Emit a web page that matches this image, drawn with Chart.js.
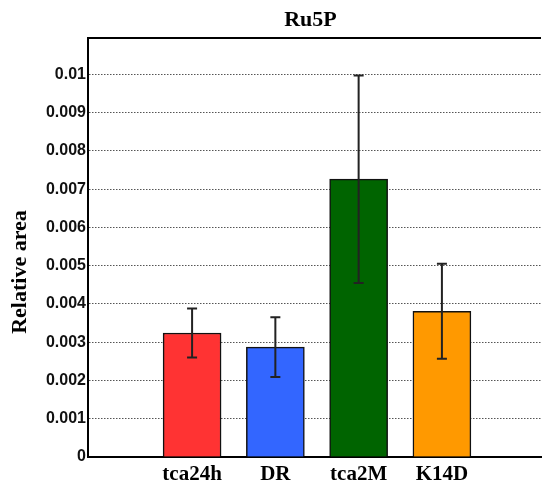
<!DOCTYPE html>
<html>
<head>
<meta charset="utf-8">
<script src="https://cdn.jsdelivr.net/npm/chart.js@4"></script>
<style>
  html, body { margin: 0; padding: 0; background: #fff; }
  #wrap { width: 543px; height: 485px; }
</style>
</head>
<body>
<div id="wrap"><canvas id="chart"></canvas></div>
<script>
// values
const groups = ['tca24h', 'DR', 'tca2M', 'K14D'];
const positions = [1, 2, 3, 4];
const means = [0.00324, 0.00287, 0.00726, 0.00381];
const errors = [0.00064, 0.00078, 0.00271, 0.00124];
const barColors = ['#ff3333', '#3366ff', '#006400', '#ff9900'];
const yTicks = [0, 0.001, 0.002, 0.003, 0.004, 0.005, 0.006, 0.007, 0.008, 0.009, 0.01];

const serif = '"Liberation Serif", "Times New Roman", serif';
const sans = '"Liberation Sans", Arial, sans-serif';

// error bars on top of the bars
const errorBars = {
  id: 'errorBars',
  afterDatasetsDraw(chart) {
    const ctx = chart.ctx;
    const xs = chart.scales.x, ys = chart.scales.y;
    ctx.save();
    ctx.strokeStyle = '#222';
    ctx.lineWidth = 2;
    means.forEach(function(m, i) {
      const x = xs.getPixelForValue(positions[i]);
      const top = ys.getPixelForValue(m + errors[i]);
      const bot = ys.getPixelForValue(m - errors[i]);
      ctx.beginPath();
      ctx.moveTo(x, top); ctx.lineTo(x, bot);
      ctx.moveTo(x - 5, top); ctx.lineTo(x + 5, top);
      ctx.moveTo(x - 5, bot); ctx.lineTo(x + 5, bot);
      ctx.stroke();
    });
    ctx.restore();
  }
};

// top frame line, chart title over the plot, y axis title
const frame = {
  id: 'frame',
  afterDraw(chart) {
    const ctx = chart.ctx;
    const a = chart.chartArea;
    ctx.save();
    ctx.strokeStyle = '#000';
    ctx.lineWidth = 2;
    ctx.beginPath();
    ctx.moveTo(a.left - 1, a.top);
    ctx.lineTo(a.right, a.top);
    ctx.stroke();
    ctx.fillStyle = '#000';
    ctx.font = 'bold 22px ' + serif;
    ctx.textAlign = 'center';
    ctx.textBaseline = 'middle';
    ctx.fillText('Ru5P', (a.left + a.right) / 2 - 4, 20);
    ctx.translate(20, 272);
    ctx.rotate(-Math.PI / 2);
    ctx.fillText('Relative area', 0, 0);
    ctx.restore();
  }
};

new Chart(document.getElementById('chart'), {
  type: 'bar',
  data: {
    datasets: [{
      data: positions.map((p, i) => ({ x: p, y: means[i] })),
      backgroundColor: barColors,
      borderColor: '#111',
      borderWidth: 1.5,
      barThickness: 58
    }]
  },
  options: {
    responsive: true,
    maintainAspectRatio: false,
    animation: false,
    layout: { padding: { left: 0, right: 2, top: 38, bottom: 0 } },
    plugins: {
      legend: { display: false },
      tooltip: { enabled: false },
      title: { display: false }
    },
    scales: {
      x: {
        type: 'linear',
        offset: false,
        min: -0.25,
        max: 5.19,
        afterBuildTicks(scale) { scale.ticks = positions.map(v => ({ value: v })); },
        afterFit(scale) { scale.height = 28; },
        ticks: {
          autoSkip: false,
          maxRotation: 0,
          padding: 7,
          color: '#000',
          font: { family: serif, size: 21, weight: 'bold', lineHeight: 1 },
          callback: function(v) {
            const i = positions.indexOf(v);
            return i >= 0 ? groups[i] : '';
          }
        },
        grid: { display: false, drawTicks: false, offset: false },
        border: { display: true, color: '#000', width: 2 }
      },
      y: {
        min: 0,
        max: 0.01095,
        afterBuildTicks(scale) { scale.ticks = yTicks.map(v => ({ value: v })); },
        afterFit(scale) { scale.width = 88; },
        ticks: {
          padding: 2,
          color: '#111',
          font: { family: sans, size: 16, weight: 'bold' },
          callback: v => String(+v.toFixed(3))
        },
        grid: {
          drawTicks: false,
          color: '#555',
          lineWidth: 1
        },
        border: { display: true, color: '#000', width: 2, dash: [1.5, 1.5] }
      }
    }
  },
  plugins: [errorBars, frame]
});
</script>
</body>
</html>
